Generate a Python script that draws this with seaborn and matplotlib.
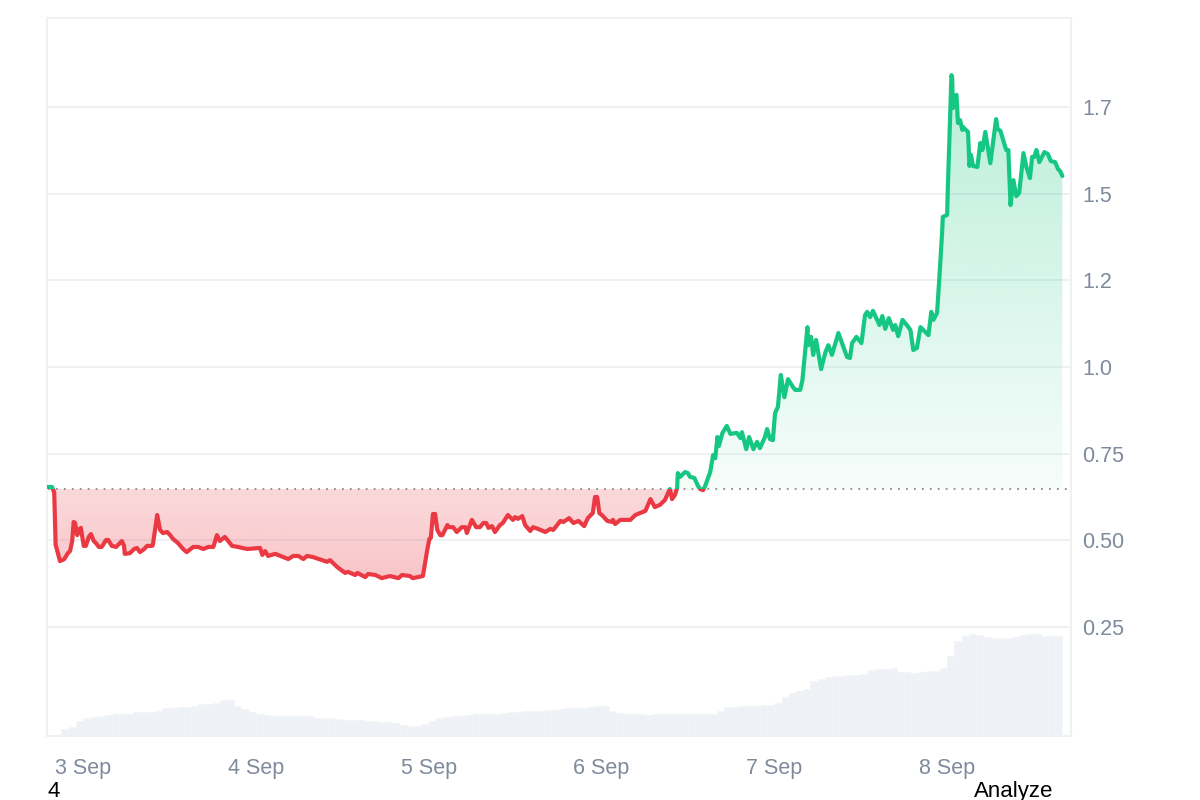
import numpy as np
import matplotlib.pyplot as plt
from matplotlib.colors import to_rgb
from matplotlib.patches import Rectangle
import seaborn as sns

# hours since 3 Sep 00:00
hours = [-4.9, -4.3, -4.2, -4.0, -3.8, -3.6, -3.2, -2.6, -2.1, -1.8, -1.5, -1.3, -1.1, -0.8, -0.6, -0.3,
         0.1, 0.4, 0.8, 1.1, 1.5, 1.8, 2.2, 2.6, 3.2, 3.5, 4.0, 4.6, 5.1, 5.4, 5.7, 5.8, 6.5, 7.1, 7.5, 7.9,
         8.5, 8.9, 9.6, 9.7, 10.3, 10.7, 11.1, 11.7, 12.1, 12.5, 13.2, 13.9, 14.4, 15.3, 16.0, 16.7, 17.4,
         18.1, 18.6, 19.0, 19.7, 20.7, 21.5, 22.8, 24.6, 24.9, 25.3, 25.7, 26.7, 28.5, 29.2, 29.9, 30.6,
         31.1, 31.9, 33.9, 34.3, 35.3, 36.4, 36.8, 37.8, 38.1, 39.2, 39.6, 40.6, 41.5, 42.6, 43.8, 44.3,
         45.4, 45.8, 47.2, 47.8, 48.1, 48.3, 48.6, 48.9, 49.2, 49.6, 49.9, 50.6, 50.8, 51.4, 51.9, 52.6,
         53.1, 53.3, 54.0, 54.6, 55.1, 55.6, 56.0, 56.3, 56.8, 57.2, 57.9, 58.3, 59.0, 59.7, 60.0, 60.4,
         61.0, 61.4, 62.1, 62.5, 63.2, 64.2, 64.9, 65.3, 66.3, 66.7, 67.5, 68.1, 68.8, 69.6, 70.1, 70.8,
         71.1, 71.4, 71.7, 72.2, 72.8, 73.5, 73.6, 73.9, 74.6, 75.3, 76.0, 76.7, 78.1, 78.8, 79.4, 80.1,
         80.8, 81.5, 81.8, 82.2, 82.5, 82.6, 82.9, 83.6, 84.0, 84.3, 84.9, 85.4, 85.7, 86.1, 86.4, 87.1,
         87.5, 87.8, 88.1, 88.3, 88.8, 89.4, 89.9, 90.8, 91.3, 91.5, 92.1, 92.5, 93.1, 93.6, 94.0, 94.7,
         95.0, 95.4, 95.8, 96.1, 96.5, 96.9, 97.4, 97.9, 98.6, 98.9, 99.6, 99.9, 100.6, 100.7, 101.1, 101.4,
         101.8, 102.5, 103.1, 103.5, 104.0, 104.9, 106.1, 106.5, 106.8, 107.4, 108.1, 108.6, 108.9, 109.3,
         109.7, 110.6, 111.0, 111.4, 111.9, 112.5, 112.8, 113.2, 113.8, 114.4, 114.9, 115.3, 115.8, 116.3,
         117.4, 117.8, 118.1, 118.6, 118.9, 119.3, 119.4, 120.0, 120.1, 120.6, 120.7, 120.8, 121.3, 121.5,
         121.8, 122.1, 122.2, 122.9, 123.1, 123.3, 123.6, 124.2, 124.6, 124.9, 125.3, 126.0, 126.8, 127.0,
         127.4, 128.2, 128.5, 128.8, 129.2, 129.6, 130.0, 130.6, 131.0, 131.5, 131.8, 132.1, 132.4, 132.8,
         133.5, 134.0, 134.4, 135.0, 135.4, 135.7, 136.0]
price = [.654, .654, .648, .639, .487, .472, .440, .446, .463, .469, .498, .553, .550, .515, .530, .536,
         .484, .484, .510, .518, .498, .492, .481, .481, .501, .501, .484, .481, .492, .498, .484, .461, .463, .475, .478, .466,
         .475, .484, .484, .487, .573, .530, .521, .524, .515, .504, .492, .475, .466, .481, .481, .475, .481,
         .481, .515, .498, .510, .484, .481, .475, .478, .458, .469, .455, .461, .446, .455, .455, .446,
         .455, .452, .438, .443, .423, .406, .409, .400, .406, .394, .403, .400, .391, .397, .391, .400,
         .397, .391, .397, .472, .504, .507, .576, .576, .530, .515, .515, .544, .538, .538, .524, .538,
         .538, .521, .559, .538, .538, .550, .550, .536, .541, .524, .544, .550, .573, .559, .567, .562,
         .570, .544, .527, .538, .533, .524, .533, .530, .556, .553, .564, .550, .556, .541, .564, .579,
         .625, .625, .579, .570, .556, .553, .559, .547, .559, .559, .559, .573, .585, .619, .596, .602,
         .616, .648, .619, .631, .651, .694, .683, .697, .694, .683, .680, .657, .648, .645, .657, .697,
         .746, .737, .798, .772, .810, .830, .807, .810, .795, .812, .763, .798, .763, .784, .766, .798,
         .821, .792, .789, .867, .885, .977, .913, .965, .942, .934, .934, .962, 1.115, 1.063, 1.087, 1.035,
         1.078, .994, 1.043, 1.063, 1.035, 1.098, 1.029, 1.026, 1.069, 1.087, 1.069, 1.150, 1.159, 1.144,
         1.162, 1.121, 1.147, 1.110, 1.141, 1.107, 1.121, 1.089, 1.136, 1.121, 1.107, 1.049, 1.055, 1.115,
         1.092, 1.159, 1.136, 1.156, 1.251, 1.387, 1.433, 1.439, 1.519, 1.842, 1.834, 1.747, 1.785, 1.704,
         1.712, 1.684, 1.692, 1.678, 1.580, 1.612, 1.580, 1.577, 1.646, 1.626, 1.678, 1.588, 1.715, 1.687,
         1.681, 1.626, 1.626, 1.467, 1.539, 1.493, 1.502, 1.617, 1.577, 1.545, 1.606, 1.606, 1.626, 1.591,
         1.620, 1.614, 1.594, 1.591, 1.571, 1.565, 1.551]
open_price = 0.648

# one volume bar per hour, from hour -4
volume = [1, 7, 9, 15, 18, 19, 20, 21, 22, 22, 22, 24, 24, 24, 25, 28, 28, 29, 29, 30,
          32, 32, 33, 36, 36, 30, 27, 24, 22, 21, 20, 20, 20, 20, 20, 20, 18, 18, 18, 17,
          16, 16, 16, 15, 15, 14, 14, 13, 11, 10, 10, 12, 15, 18, 19, 20, 20, 21, 22, 22,
          22, 22, 23, 24, 24, 25, 25, 25, 26, 26, 27, 28, 28, 28, 29, 30, 30, 25, 23, 22,
          22, 22, 21, 22, 22, 22, 22, 22, 22, 22, 22, 22, 25, 29, 29, 30, 30, 30, 31, 31,
          33, 39, 43, 45, 47, 55, 57, 59, 60, 60, 61, 61, 62, 66, 67, 67, 68, 64, 64, 63,
          64, 65, 65, 68, 80, 95, 100, 102, 101, 99, 98, 98, 98, 99, 101, 102, 102, 100, 100, 100]

price_ticks = [0.25, 0.5, 0.75, 1.0, 1.25, 1.5, 1.75]
price_labels = ['0.25', '0.50', '0.75', '1.0', '1.2', '1.5', '1.7']
day_ticks = [0, 24, 48, 72, 96, 120]
day_labels = ['3 Sep', '4 Sep', '5 Sep', '6 Sep', '7 Sep', '8 Sep']

GREEN = '#16c784'
RED = '#ea3943'
GRID = '#eff2f5'
MUTED = '#808a9d'

sns.set_style('white')
plt.rcParams['font.family'] = ['Liberation Sans', 'DejaVu Sans']

fig = plt.figure(figsize=(12, 8), dpi=100)
rect = [47 / 1200, 64 / 800, 1024 / 1200, 718 / 800]
xlim = (-5, 137.2)
ylim = (-0.0644, 2.0068)

# volume sits on its own axes behind the price
ax_vol = fig.add_axes(rect, zorder=1)
sns.histplot(x=np.arange(-4, 136) + 0.5, weights=np.array(volume), binwidth=1, binrange=(-4, 136),
             color='#eef1f5', alpha=1, edgecolor='#f3f5f7', linewidth=0.4, ax=ax_vol)
ax_vol.set_xlim(xlim)
ax_vol.set_ylim(0, 718)
ax_vol.axis('off')

ax = fig.add_axes(rect, zorder=2)
ax.patch.set_alpha(0)
ax.set_xlim(xlim)
ax.set_ylim(ylim)
ax.set_yticks(price_ticks, price_labels)
ax.set_xticks(day_ticks, day_labels)
ax.yaxis.tick_right()
ax.tick_params(axis='both', length=0, labelsize=15.5, labelcolor=MUTED)
ax.tick_params(axis='y', pad=8)
ax.tick_params(axis='x', pad=15.5)
ax.grid(axis='y', color=GRID, linewidth=1.4)
ax.set_axisbelow(True)
for s in ax.spines.values():
    s.set_color(GRID)
    s.set_linewidth(1.5)
for lab in ax.get_yticklabels():
    lab.set_va('center_baseline')

above = Rectangle((xlim[0], open_price), xlim[1] - xlim[0], ylim[1] - open_price, transform=ax.transData)
below = Rectangle((xlim[0], ylim[0]), xlim[1] - xlim[0], open_price - ylim[0], transform=ax.transData)

# gradient fills, clipped to the area between price and open
h = np.array(hours)
p = np.array(price)
poly = ax.fill_between(h, p, open_price, color='none', linewidth=0)


def gradient(color, a_low, a_high, left, right, lo, hi):
    rgba = np.zeros((256, 1, 4))
    rgba[..., :3] = to_rgb(color)
    rgba[..., 3] = np.linspace(a_high, a_low, 256)[:, None]
    im = ax.imshow(rgba, extent=[left, right, lo, hi], aspect='auto', origin='upper', zorder=1.5)
    im.set_clip_path(poly.get_paths()[0], transform=ax.transData)


gradient(GREEN, 0.04, 0.30, 82.5, h[-1], open_price, 1.85)
gradient(RED, 0.29, 0.19, h[0], 82.5, 0.39, open_price - 0.002)
ax.set_xlim(xlim)
ax.set_ylim(ylim)

ax.hlines(open_price, -4.9, 136.6, color='#8a8a8a', linewidth=1.3, linestyle=(0, (1, 3.4)), zorder=2)

# same line twice, cut at the open price
for color, clip in [(GREEN, above), (RED, below)]:
    sns.lineplot(x=hours, y=price, color=color, linewidth=3.0, errorbar=None, estimator=None, ax=ax, zorder=3,
                 solid_joinstyle='round', solid_capstyle='round')
    ax.lines[-1].set_clip_path(clip)
ax.set_xlabel('')
ax.set_ylabel('')

fig.text(47 / 1200, 3 / 800, '4', fontsize=16, color='black')
fig.text(974 / 1200, 3 / 800, 'Analyze', fontsize=16, color='black')

fig.savefig('out.png', dpi=100)
